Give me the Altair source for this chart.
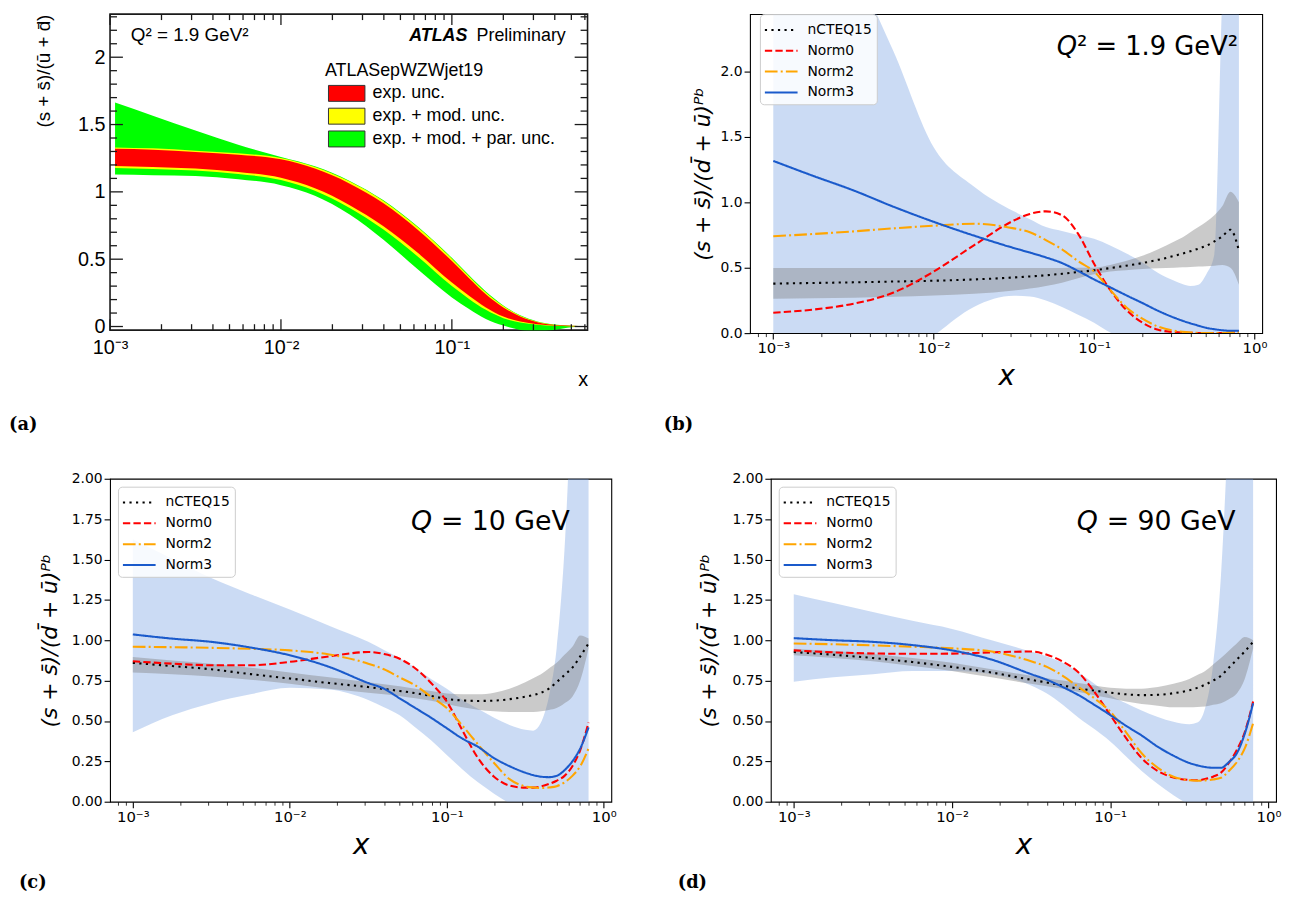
import altair as alt
import pandas as pd

# ---------------- panel (a): ATLAS strange-sea ratio ----------------
A_X = [0.00107, 0.00178, 0.00316, 0.00562, 0.01, 0.0158, 0.0251, 0.0398, 0.0631, 0.1,
       0.126, 0.158, 0.2, 0.251, 0.316, 0.398, 0.501, 0.603]
A_EXP_HI = [1.32, 1.313, 1.296, 1.276, 1.242, 1.173, 1.063, 0.915, 0.719, 0.486,
            0.358, 0.24, 0.142, 0.074, 0.032, 0.012, 0.005, 0.002]
A_EXP_LO = [1.193, 1.185, 1.173, 1.148, 1.104, 1.026, 0.903, 0.744, 0.547, 0.326,
            0.228, 0.142, 0.074, 0.037, 0.017, 0.007, 0.002, 0.0]
A_MOD_HI = [1.33, 1.323, 1.306, 1.286, 1.252, 1.185, 1.078, 0.932, 0.737, 0.504,
            0.374, 0.253, 0.152, 0.08, 0.036, 0.014, 0.006, 0.002]
A_MOD_LO = [1.178, 1.17, 1.158, 1.133, 1.088, 1.008, 0.882, 0.72, 0.52, 0.3,
            0.205, 0.124, 0.062, 0.03, 0.013, 0.005, 0.001, 0.0]
A_PAR_HI = [1.664, 1.566, 1.455, 1.35, 1.259, 1.19, 1.083, 0.937, 0.742, 0.51,
            0.38, 0.26, 0.157, 0.083, 0.038, 0.015, 0.006, 0.002]
A_PAR_LO = [1.129, 1.124, 1.117, 1.094, 1.05, 0.972, 0.834, 0.645, 0.425, 0.216,
            0.13, 0.056, 0.007, -0.025, -0.037, -0.025, -0.005, 0.0]
A_BANDS = ["exp. unc.", "exp. + mod. unc.", "exp. + mod. + par. unc."]
A_BAND_COLORS = ["#ff0000", "#ffff00", "#00ff00"]
A_XTICK_MAJOR = [0.001, 0.01, 0.1]
A_XTICK_MINOR = [0.002, 0.003, 0.004, 0.005, 0.006, 0.007, 0.008, 0.009,
                 0.02, 0.03, 0.04, 0.05, 0.06, 0.07, 0.08, 0.09,
                 0.2, 0.3, 0.4, 0.5, 0.6]
A_YTICK_MAJOR = [0, 0.5, 1, 1.5, 2]
A_YTICK_MINOR = [0.1, 0.2, 0.3, 0.4, 0.6, 0.7, 0.8, 0.9, 1.1, 1.2, 1.3, 1.4,
                 1.6, 1.7, 1.8, 1.9, 2.1, 2.2, 2.3]
A_YTITLE = "(s + s\u0304)/(\u016b + d\u0304)"
A_QTEXT = "Q\u00b2 = 1.9 GeV\u00b2"
A_ATLAS = "ATLAS"
A_PRELIM = "Preliminary"
A_LEGEND_TITLE = "ATLASepWZWjet19"

# ---------------- panels (b)-(d): nuclear PDFs ----------------
NUC_X = [0.001, 0.00178, 0.00316, 0.00562, 0.01, 0.0178, 0.0316, 0.0398, 0.0501, 0.0631,
         0.0794, 0.1, 0.126, 0.158, 0.2, 0.251, 0.316, 0.355, 0.398, 0.447,
         0.501, 0.562, 0.631, 0.708, 0.8]
SERIES = ["nCTEQ15", "Norm0", "Norm2", "Norm3"]
SERIES_COLORS = ["#000000", "#ff0000", "#ffa500", "#1a5acb"]
SERIES_DASHES = [[2.2, 4.4], [7.4, 3.2], [12.8, 3.2, 2, 3.2], [1, 0]]

B_NCTEQ = [0.378, 0.383, 0.388, 0.394, 0.40, 0.41, 0.425, 0.433, 0.442, 0.453,
           0.466, 0.48, 0.497, 0.515, 0.535, 0.56, 0.59, 0.607, 0.625, 0.645,
           0.667, 0.70, 0.74, 0.79, 0.63]
B_GRAY_HI = [0.497, 0.497, 0.497, 0.497, 0.497, 0.497, 0.497, 0.497, 0.497, 0.498,
             0.499, 0.50, 0.52, 0.55, 0.59, 0.64, 0.70, 0.73, 0.77, 0.81,
             0.85, 0.90, 0.97, 1.08, 1.00]
B_GRAY_LO = [0.262, 0.266, 0.27, 0.277, 0.287, 0.30, 0.325, 0.34, 0.36, 0.385,
             0.42, 0.45, 0.47, 0.48, 0.49, 0.495, 0.50, 0.503, 0.505, 0.508,
             0.51, 0.515, 0.52, 0.50, 0.37]
B_BLUE_HI = [3.5, 3.3, 2.8, 2.15, 1.42, 1.12, 0.93, 0.87, 0.81, 0.78,
             0.75, 0.72, 0.67, 0.61, 0.54, 0.46, 0.40, 0.375, 0.36, 0.37,
             0.45, 0.6, 2.6, 3.5, 3.5]
B_BLUE_LO = [-1.0, -0.8, -0.5, -0.25, -0.02, 0.2, 0.285, 0.28, 0.25, 0.2,
             0.14, 0.08, 0.005, -0.05, -0.1, -0.1, -0.1, -0.1, -0.1, -0.1,
             -0.1, -0.1, -0.1, -0.1, -0.1]
B_NORM0 = [0.156, 0.18, 0.225, 0.31, 0.47, 0.67, 0.86, 0.91, 0.93, 0.90,
           0.76, 0.53, 0.33, 0.18, 0.08, 0.025, 0.008, 0.004, 0.002, 0.001,
           0.0, 0.0, 0.0, 0.005, 0.015]
B_NORM2 = [0.74, 0.757, 0.777, 0.80, 0.82, 0.835, 0.80, 0.77, 0.71, 0.64,
           0.55, 0.47, 0.33, 0.20, 0.11, 0.05, 0.018, 0.01, 0.005, 0.002,
           0.001, 0.0, 0.0, 0.005, 0.01]
B_NORM3 = [1.315, 1.2, 1.09, 0.965, 0.85, 0.745, 0.65, 0.615, 0.578, 0.535,
           0.475, 0.41, 0.35, 0.29, 0.23, 0.17, 0.118, 0.095, 0.075, 0.057,
           0.04, 0.03, 0.022, 0.018, 0.018]

C_NCTEQ = [0.86, 0.84, 0.82, 0.79, 0.763, 0.735, 0.71, 0.698, 0.686, 0.672,
           0.655, 0.636, 0.627, 0.624, 0.626, 0.635, 0.65, 0.66, 0.675, 0.70,
           0.74, 0.785, 0.83, 0.90, 0.98]
C_GRAY_HI = [0.896, 0.875, 0.855, 0.83, 0.80, 0.77, 0.74, 0.728, 0.715, 0.70,
             0.685, 0.67, 0.665, 0.665, 0.675, 0.70, 0.74, 0.765, 0.79, 0.825,
             0.86, 0.91, 0.96, 1.03, 1.01]
C_GRAY_LO = [0.80, 0.79, 0.775, 0.755, 0.73, 0.70, 0.675, 0.665, 0.655, 0.64,
             0.625, 0.605, 0.585, 0.57, 0.56, 0.555, 0.555, 0.556, 0.56, 0.568,
             0.58, 0.61, 0.65, 0.75, 0.95]
C_BLUE_HI = [1.625, 1.505, 1.385, 1.285, 1.19, 1.09, 0.99, 0.94, 0.89, 0.83,
             0.76, 0.70, 0.63, 0.575, 0.52, 0.475, 0.445, 0.44, 0.49, 0.65,
             0.95, 1.56, 2.6, 3.5, 3.5]
C_BLUE_LO = [0.43, 0.535, 0.61, 0.665, 0.705, 0.695, 0.63, 0.585, 0.535, 0.46,
             0.38, 0.29, 0.2, 0.12, 0.05, -0.01, -0.06, -0.08, -0.1, -0.1,
             -0.1, -0.1, -0.1, -0.1, -0.1]
C_NORM0 = [0.87, 0.855, 0.845, 0.845, 0.866, 0.90, 0.927, 0.915, 0.885, 0.825,
           0.735, 0.62, 0.44, 0.27, 0.155, 0.10, 0.087, 0.087, 0.095, 0.11,
           0.13, 0.16, 0.22, 0.32, 0.49]
C_NORM2 = [0.96, 0.957, 0.953, 0.947, 0.937, 0.912, 0.855, 0.82, 0.77, 0.72,
           0.65, 0.58, 0.47, 0.355, 0.24, 0.14, 0.095, 0.088, 0.085, 0.088,
           0.096, 0.12, 0.16, 0.22, 0.33]
C_NORM3 = [1.036, 1.01, 0.99, 0.955, 0.907, 0.835, 0.735, 0.70, 0.64, 0.58,
           0.52, 0.455, 0.39, 0.34, 0.27, 0.22, 0.18, 0.165, 0.155, 0.152,
           0.16, 0.195, 0.25, 0.33, 0.46]

D_NCTEQ = [0.927, 0.91, 0.89, 0.865, 0.835, 0.80, 0.755, 0.738, 0.72, 0.70,
           0.688, 0.675, 0.665, 0.66, 0.662, 0.672, 0.69, 0.705, 0.725, 0.75,
           0.78, 0.83, 0.88, 0.93, 0.99]
D_GRAY_HI = [0.948, 0.933, 0.915, 0.89, 0.86, 0.82, 0.78, 0.765, 0.75, 0.735,
             0.72, 0.705, 0.70, 0.70, 0.71, 0.73, 0.76, 0.785, 0.81, 0.85,
             0.89, 0.935, 0.98, 1.02, 1.0]
D_GRAY_LO = [0.907, 0.89, 0.87, 0.84, 0.81, 0.77, 0.73, 0.715, 0.70, 0.68,
             0.66, 0.64, 0.62, 0.605, 0.595, 0.585, 0.585, 0.587, 0.59, 0.60,
             0.61, 0.635, 0.67, 0.76, 0.95]
D_BLUE_HI = [1.285, 1.23, 1.175, 1.12, 1.07, 1.0, 0.93, 0.90, 0.86, 0.80,
             0.73, 0.66, 0.61, 0.565, 0.525, 0.495, 0.48, 0.49, 0.58, 0.85,
             1.4, 2.4, 3.5, 3.5, 3.5]
D_BLUE_LO = [0.743, 0.77, 0.79, 0.81, 0.81, 0.79, 0.72, 0.67, 0.60, 0.52,
             0.45, 0.373, 0.28, 0.19, 0.11, 0.04, -0.02, -0.05, -0.08, -0.1,
             -0.1, -0.1, -0.1, -0.1, -0.1]
D_NORM0 = [0.937, 0.925, 0.918, 0.916, 0.917, 0.925, 0.93, 0.91, 0.868, 0.80,
           0.68, 0.537, 0.394, 0.27, 0.19, 0.15, 0.135, 0.133, 0.14, 0.155,
           0.18, 0.24, 0.32, 0.43, 0.62]
D_NORM2 = [0.98, 0.975, 0.968, 0.96, 0.95, 0.93, 0.87, 0.835, 0.78, 0.71,
           0.64, 0.558, 0.43, 0.30, 0.21, 0.155, 0.133, 0.13, 0.132, 0.138,
           0.148, 0.19, 0.245, 0.33, 0.486]
D_NORM3 = [1.013, 1.0, 0.99, 0.97, 0.937, 0.88, 0.79, 0.755, 0.71, 0.66,
           0.60, 0.537, 0.47, 0.41, 0.34, 0.285, 0.24, 0.225, 0.215, 0.21,
           0.21, 0.245, 0.30, 0.42, 0.61]

NUC_XTICKS = [0.0008, 0.0009, 0.001, 0.002, 0.003, 0.004, 0.005, 0.006, 0.007, 0.008, 0.009,
              0.01, 0.02, 0.03, 0.04, 0.05, 0.06, 0.07, 0.08, 0.09,
              0.1, 0.2, 0.3, 0.4, 0.5, 0.6, 0.7, 0.8, 0.9, 1.0]
NUC_YTITLE = "(s + s\u0304)/(d\u0304 + \u016b)\u1d3e\u1d47"
DECADE_LABELS = [(0.001, "10\u207b\u00b3"), (0.01, "10\u207b\u00b2"),
                 (0.1, "10\u207b\u00b9"), (1.0, "10\u2070")]

# ---------------- helpers ----------------
FONT_ROOT = "Liberation Sans"
FONT_MPL = "DejaVu Sans"
FRAME_A = "#1a1a1a"
BLUE_BAND = "#6f9be0"
GRAY_BAND = "#808080"

DECADE_EXPR = "''"
for v, s in reversed(DECADE_LABELS):
    DECADE_EXPR = f"abs(datum.value - {v}) < {v * 0.01} ? '{s}' : ({DECADE_EXPR})"
IS_MINOR = "abs(log(datum.value)/LN10 - round(log(datum.value)/LN10)) > 0.001"

DUMMY = pd.DataFrame({"d": [0]})


def txt(s, x, y, size, font, weight="normal", style="normal", align="left", baseline="alphabetic"):
    return alt.Chart(DUMMY).mark_text(
        text=s, font=font, fontSize=size, fontWeight=weight, fontStyle=style,
        align=align, baseline=baseline, color="black"
    ).encode(x=alt.value(x), y=alt.value(y))


# ---------------- panel (a) ----------------
AW, AH = 482, 319
a_xs = alt.Scale(type="log", domain=[0.001, 0.622], nice=False)
a_ys = alt.Scale(domain=[-0.027, 2.32], nice=False, zero=False)
a_xaxis = alt.Axis(values=A_XTICK_MAJOR, labelExpr=DECADE_EXPR, ticks=False, domain=False, grid=False,
                   labelFont=FONT_ROOT, labelFontSize=20, labelColor="black", labelPadding=8,
                   labelFlush=False, labelOverlap=False, title="x", titleFont=FONT_ROOT,
                   titleFontSize=20, titleFontWeight="normal", titleColor="black",
                   titleAnchor="end", titleY=56, titleBaseline="alphabetic")
a_yaxis = alt.Axis(values=A_YTICK_MAJOR, format="~g", ticks=False, domain=False, grid=False,
                   labelFont=FONT_ROOT, labelFontSize=20, labelColor="black", labelPadding=5,
                   title=A_YTITLE, titleFont=FONT_ROOT, titleFontSize=19, titleFontWeight="normal",
                   titleColor="black", titleAnchor="end", titleX=-67, titleBaseline="middle")


def a_X(f):
    return alt.X(f, type="quantitative", scale=a_xs, axis=a_xaxis)


def a_Y(f):
    return alt.Y(f, type="quantitative", scale=a_ys, axis=a_yaxis)


a_legend = alt.Legend(orient="none", legendX=217, legendY=48, title=A_LEGEND_TITLE,
                      titleFont=FONT_ROOT, titleFontSize=18, titleFontWeight="normal",
                      titleColor="black", titlePadding=2, labelFont=FONT_ROOT, labelFontSize=18,
                      labelColor="black", labelLimit=400, symbolType="M-0.74,-0.7H2.46V0.7H-0.74Z",
                      symbolSize=529, symbolStrokeColor="#333333", symbolStrokeWidth=1,
                      symbolOpacity=1, rowPadding=0, labelOffset=24, padding=0)


def a_band(lo, hi, name):
    df = pd.DataFrame({"x": A_X, "lo": lo, "hi": hi, "band": name})
    return alt.Chart(df).mark_area(clip=True, interpolate="monotone").encode(
        x=a_X("x"), y=a_Y("lo"), y2=alt.Y2("hi"),
        fill=alt.Fill("band:N", scale=alt.Scale(domain=A_BANDS, range=A_BAND_COLORS), legend=a_legend))


def a_hticks(vals, x0, x1):
    return alt.Chart(pd.DataFrame({"v": vals})).mark_rule(color=FRAME_A, strokeWidth=1.3).encode(
        y=a_Y("v"), x=alt.value(x0), x2=alt.value(x1))


def a_vticks(vals, y0, y1):
    return alt.Chart(pd.DataFrame({"v": vals})).mark_rule(color=FRAME_A, strokeWidth=1.3).encode(
        x=a_X("v"), y=alt.value(y0), y2=alt.value(y1))


panel_a = alt.layer(
    a_band(A_PAR_LO, A_PAR_HI, A_BANDS[2]),
    a_band(A_MOD_LO, A_MOD_HI, A_BANDS[1]),
    a_band(A_EXP_LO, A_EXP_HI, A_BANDS[0]),
    a_hticks(A_YTICK_MAJOR, 0, 13), a_hticks(A_YTICK_MINOR, 0, 7),
    a_hticks(A_YTICK_MAJOR, AW, AW - 13), a_hticks(A_YTICK_MINOR, AW, AW - 7),
    a_vticks(A_XTICK_MAJOR, AH, AH - 11), a_vticks(A_XTICK_MINOR, AH, AH - 6),
    a_vticks(A_XTICK_MAJOR, 0, 11), a_vticks(A_XTICK_MINOR, 0, 6),
    txt(A_QTEXT, 21, 27, 19, FONT_ROOT),
    txt(A_ATLAS, 302, 27, 18, FONT_ROOT, weight="bold", style="italic"),
    txt(A_PRELIM, 370, 27, 18, FONT_ROOT),
    txt("(a)", -102, 424, 18, "DejaVu Serif", weight="bold", baseline="bottom"),
).properties(width=AW, height=AH, view=alt.ViewBackground(stroke=FRAME_A, strokeWidth=1.6))

# ---------------- panels (b)-(d) ----------------
NUC_XDOM = [0.000716, 1.117]


def nuc_panel(series_vals, gray_lo, gray_hi, blue_lo, blue_hi, w, h, ydom, yticks, yfmt,
              ytitle_x, leg_x, leg_y, q_main, q_x, q_y, q_size, q_gap, label, label_x, label_y):
    xs = alt.Scale(type="log", domain=NUC_XDOM, nice=False)
    ys = alt.Scale(domain=ydom, nice=False, zero=False)
    xaxis = alt.Axis(values=NUC_XTICKS, labelExpr=DECADE_EXPR, labelFlush=False, labelOverlap=False,
                     tickSize={"condition": {"test": IS_MINOR, "value": 3.5}, "value": 6},
                     tickWidth={"condition": {"test": IS_MINOR, "value": 0.8}, "value": 1.1},
                     tickColor="black", domain=False, grid=False, labelFont=FONT_MPL,
                     labelFontSize=15, labelColor="black", labelPadding=2,
                     title="x", titleFont=FONT_MPL, titleFontSize=28, titleFontStyle="italic",
                     titleFontWeight="normal", titleColor="black", titleY=52,
                     titleBaseline="alphabetic")
    yaxis = alt.Axis(values=yticks, format=yfmt, tickSize=6, tickWidth=1.1, tickColor="black",
                     domain=False, grid=False, labelFont=FONT_MPL, labelFontSize=14,
                     labelColor="black", labelPadding=2, title=NUC_YTITLE, titleFont=FONT_MPL,
                     titleFontSize=22, titleFontStyle="italic", titleFontWeight="normal",
                     titleColor="black", titleX=ytitle_x, titleBaseline="middle")

    def X(f):
        return alt.X(f, type="quantitative", scale=xs, axis=xaxis)

    def Y(f):
        return alt.Y(f, type="quantitative", scale=ys, axis=yaxis)

    band_df = pd.DataFrame({"x": NUC_X, "blo": blue_lo, "bhi": blue_hi, "glo": gray_lo, "ghi": gray_hi})
    blue = alt.Chart(band_df).mark_area(clip=True, interpolate="monotone", color=BLUE_BAND,
                                         opacity=0.36).encode(x=X("x"), y=Y("blo"), y2=alt.Y2("bhi"))
    gray = alt.Chart(band_df).mark_area(clip=True, interpolate="monotone", color=GRAY_BAND,
                                         opacity=0.42).encode(x=X("x"), y=Y("glo"), y2=alt.Y2("ghi"))
    rows = []
    for name, vals in zip(SERIES, series_vals):
        for xv, yv in zip(NUC_X, vals):
            rows.append({"x": xv, "y": yv, "series": name})
    leg = alt.Legend(title=None, orient="none", legendX=leg_x, legendY=leg_y,
                     symbolType="M-1.1,0H2.2", symbolSize=400, symbolStrokeWidth=2,
                     labelFont=FONT_MPL, labelFontSize=14, labelColor="black", labelOffset=21,
                     fillColor="rgba(255,255,255,0.85)", strokeColor="#cccccc", cornerRadius=4,
                     padding=5, rowPadding=3)
    lines = alt.Chart(pd.DataFrame(rows)).mark_line(clip=True, interpolate="monotone",
                                                    strokeWidth=2.1).encode(
        x=X("x"), y=Y("y"),
        color=alt.Color("series:N", scale=alt.Scale(domain=SERIES, range=SERIES_COLORS), legend=leg),
        strokeDash=alt.StrokeDash("series:N", scale=alt.Scale(domain=SERIES, range=SERIES_DASHES),
                                  legend=leg))
    return alt.layer(
        blue, gray, lines,
        txt("Q", q_x - q_gap, q_y, q_size, FONT_MPL, style="italic", align="right"),
        txt(q_main, q_x, q_y, q_size, FONT_MPL),
        txt(label, label_x, label_y, 18, "DejaVu Serif", weight="bold", baseline="bottom"),
    ).properties(width=w, height=h)


panel_b = nuc_panel([B_NCTEQ, B_NORM0, B_NORM2, B_NORM3], B_GRAY_LO, B_GRAY_HI, B_BLUE_LO, B_BLUE_HI,
                    517, 322, [0, 2.436], [0, 0.5, 1.0, 1.5, 2.0], ".1f", -48, 10, 0,
                    "\u00b2 = 1.9 GeV\u00b2", 330, 41, 26, 0, "(b)", -87, 424)
panel_c = nuc_panel([C_NCTEQ, C_NORM0, C_NORM2, C_NORM3], C_GRAY_LO, C_GRAY_HI, C_BLUE_LO, C_BLUE_HI,
                    506, 326, [0, 2], [0, 0.25, 0.5, 0.75, 1.0, 1.25, 1.5, 1.75, 2.0], ".2f", -61, 8, 8,
                    "= 10 GeV", 334, 52, 27, 9, "(c)", -92, 417)
panel_d = nuc_panel([D_NCTEQ, D_NORM0, D_NORM2, D_NORM3], D_GRAY_LO, D_GRAY_HI, D_BLUE_LO, D_BLUE_HI,
                    510, 326, [0, 2], [0, 0.25, 0.5, 0.75, 1.0, 1.25, 1.5, 1.75, 2.0], ".2f", -63, 8, 8,
                    "= 90 GeV", 339, 52, 27, 9, "(d)", -94, 417)

IND = dict(x="independent", y="independent", color="independent",
           strokeDash="independent", fill="independent")
row1 = alt.hconcat(panel_a, panel_b, spacing=74).resolve_scale(**IND)
row2 = alt.hconcat(panel_c, panel_d, spacing=60).resolve_scale(**IND)
chart = alt.vconcat(row1, row2, spacing=36).resolve_scale(**IND).properties(
    padding=0).configure_view(stroke="black", strokeWidth=1.1)

chart.save("out.html", embed_options={"renderer": "svg", "actions": False})
